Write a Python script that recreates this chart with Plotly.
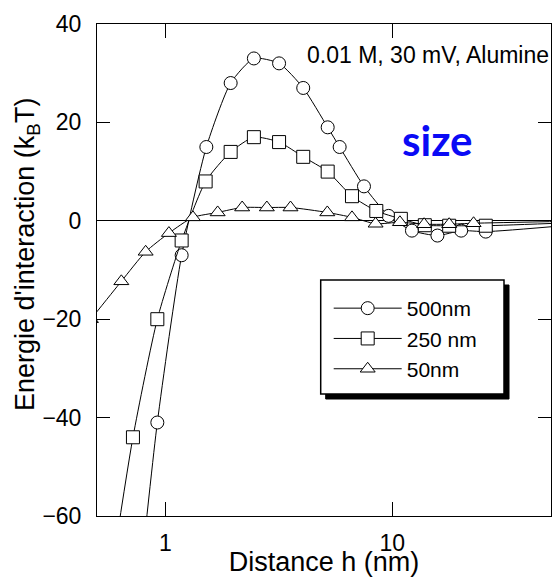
import plotly.graph_objects as go
import math

# ---- data ----
x_500 = [0.72, 0.922, 1.18, 1.516, 1.94, 2.455, 3.17, 4.05, 5.19, 5.86, 7.5, 9.63, 12.2, 15.8, 20.1, 25.8, 60]
y_500 = [-87, -41, -7, 15, 28, 33, 32, 27, 19, 15, 7, 1, -2, -3, -2, -2.2, -0.9]

x_250 = [0.56, 0.72, 0.922, 1.18, 1.505, 1.94, 2.455, 3.17, 4.05, 5.19, 6.64, 8.5, 10.9, 13.9, 17.8, 25.8, 60]
y_250 = [-76, -44, -20, -4, 8, 14, 17, 16, 13, 10, 5, 2, 0.4, -0.9, -1, -1, -0.4]

x_50 = [0.47, 0.64, 0.819, 1.037, 1.323, 1.70, 2.18, 2.80, 3.56, 5.17, 6.64, 8.44, 10.8, 13.8, 17.8, 22.8, 60]
y_50 = [-20, -12.3, -6.3, -2.5, 0.7, 1.7, 2.7, 2.7, 2.7, 1.7, 0.7, -0.6, -0.3, -0.7, -0.7, -0.5, -0.1]

names = ["500nm", "250 nm", "50nm"]
symbols = ["circle", "square", "triangle-up"]

x_ticks = [1, 10]
x_tick_text = ["1", "10"]
y_range = [-60, 40]
x_range = [0.5, 50]

annot_text = "0.01 M, 30 mV, Alumine"
size_text = "size"
x_title = "Distance h (nm)"
y_title = "Energie d'interaction (k<sub>B</sub>T)"

FONT = "Liberation Sans, Arial, sans-serif"

# plot-area geometry (pixels) used for paper coords
W, H = 557, 577
L, R, T, B = 97, 6, 24, 61
PW = W - L - R
PH = H - T - B

def px(xp):
    return (xp - L) / PW

def py(yp):
    return (H - B - yp) / PH

fig = go.Figure()
for xs, ys, nm, sym in zip([x_500, x_250, x_50], [y_500, y_250, y_50], names, symbols):
    fig.add_trace(go.Scatter(
        x=xs, y=ys, name=nm, mode="lines+markers",
        line=dict(color="black", width=1, shape="spline", smoothing=0.6),
        marker=dict(symbol=sym, size=13,
                    color="white", line=dict(color="black", width=1)),
        cliponaxis=True,
    ))

fig.update_xaxes(
    type="log", range=[math.log10(x_range[0]), math.log10(x_range[1])],
    tickvals=x_ticks, ticktext=x_tick_text,
    ticks="inside", ticklen=14, tickwidth=1, tickcolor="black",
    showline=True, linecolor="black", linewidth=1, mirror="ticks",
    showgrid=False, zeroline=False,
    tickfont=dict(family=FONT, size=23, color="black"),
    ticklabelstandoff=6,
    title=dict(text=x_title, font=dict(family=FONT, size=27, color="black"), standoff=3),
)
fig.update_yaxes(
    range=y_range, dtick=20, tick0=0,
    ticks="inside", ticklen=13, tickwidth=1, tickcolor="black",
    showline=True, linecolor="black", linewidth=1, mirror="ticks",
    showgrid=False, zeroline=True, zerolinecolor="black", zerolinewidth=1,
    tickfont=dict(family=FONT, size=23, color="black"),
    ticklabelstandoff=10,
)

# legend frame with shadow (paper coords)
bx0, by0, bx1, by1 = 320.7, 280, 504, 394
shadow = 5
fig.add_shape(type="rect", xref="paper", yref="paper",
              x0=px(bx0 + shadow), x1=px(bx1 + shadow), y0=py(by1 + shadow), y1=py(by0 + shadow),
              fillcolor="black", line=dict(color="black", width=1), layer="above")
fig.add_shape(type="rect", xref="paper", yref="paper",
              x0=px(bx0), x1=px(bx1), y0=py(by1), y1=py(by0),
              fillcolor="white", line=dict(color="black", width=1.5), layer="above")

fig.update_layout(
    width=W, height=H,
    margin=dict(l=L, r=R, t=T, b=B, autoexpand=False),
    paper_bgcolor="white", plot_bgcolor="white",
    showlegend=True,
    legend=dict(x=px(bx0 + 8), y=py(by0 + 8), xanchor="left", yanchor="top",
                bgcolor="rgba(0,0,0,0)", borderwidth=0,
                font=dict(family=FONT, size=21, color="black"),
                itemwidth=68, tracegroupgap=0),
    annotations=[
        dict(text=annot_text, xref="paper", yref="paper", x=px(551), y=py(55),
             xanchor="right", yanchor="middle", showarrow=False,
             font=dict(family=FONT, size=23, color="black")),
        dict(text=size_text, xref="paper", yref="paper", x=px(437), y=py(140),
             xanchor="center", yanchor="middle", showarrow=False,
             font=dict(family="Lato", size=42, color="#0a0af5", weight="bold")),
        dict(text=y_title, xref="paper", yref="paper",
             x=px(27), y=py(255), xanchor="center", yanchor="middle", textangle=-90,
             showarrow=False, font=dict(family=FONT, size=27, color="black")),
    ],
)

fig.write_html("out.html")
